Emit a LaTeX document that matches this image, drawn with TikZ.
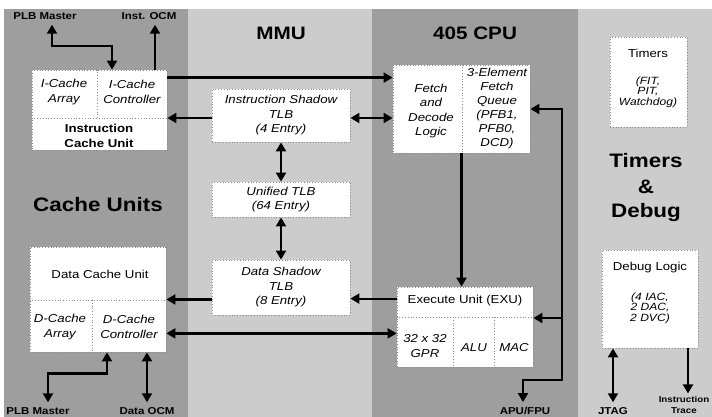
\documentclass[tikz,border=0pt]{standalone}
\usepackage{fontspec}
\setmainfont{Liberation Sans}[FakeStretch=1.15]
\usetikzlibrary{arrows.meta,positioning}

\begin{document}
\begin{tikzpicture}[x=1pt, y=-1pt, >={Triangle[length=9pt,width=10pt]}]
    \tikzstyle{unit}=[draw=black!45, dotted, line width=0.8pt, fill=white, inner sep=0pt]
    \tikzstyle{div}=[draw=black!45, dotted, line width=0.8pt]
    \tikzstyle{link}=[line width=2.2pt]
    \tikzstyle{txt}=[font=\fontsize{11.5}{14.5}\selectfont\itshape, align=center, inner sep=1pt]
    \tikzstyle{list}=[font=\fontsize{10.5}{10.5}\selectfont\itshape, align=center, inner sep=1pt]
    \tikzstyle{head}=[font=\fontsize{11.5}{14.5}\selectfont, align=center, inner sep=1pt]
    \tikzstyle{title}=[font=\fontsize{19.5}{25}\selectfont\bfseries, align=center, inner sep=1pt]
    \tikzstyle{port}=[font=\fontsize{10}{12}\selectfont\bfseries, align=center, inner sep=1pt]

    \useasboundingbox (0,0) rectangle (712,417);
    \fill[white] (0,0) rectangle (712,417);
    % regions
    \fill[black!38] (4,9) rectangle (188,417);
    \fill[black!20] (188,9) rectangle (372,417);
    \fill[black!38] (372,9) rectangle (578,417);
    \fill[black!20] (578,9) rectangle (712,417);

    \node[title] (cachettl) at (98,205) {Cache Units};
    \node[title, font=\fontsize{18}{25}\selectfont\bfseries] (mmuttl) at (281,33) {MMU};
    \node[title, font=\fontsize{18}{25}\selectfont\bfseries] (cputtl) at (475,33) {405 CPU};
    \node[title] (tdttl) at (646,188) {Timers\\\&\\Debug};

    % cache units
    \node[unit, minimum width=135, minimum height=80] (icu) at (99.5,110) {};
    \draw[div] (icu.north -| 97,0) -- (97,118);
    \draw[div] (icu.west |- 0,118) -- (icu.east |- 0,118);
    \node[txt] (icarray) at (64,92) {I-Cache\\Array};
    \node[txt] (icctrl) at (132,92) {I-Cache\\Controller};
    \node[head, font=\fontsize{11.5}{14.5}\selectfont\bfseries] (iculbl) at (99,136) {Instruction\\Cache Unit};

    \node[unit, minimum width=136, minimum height=105] (dcu) at (98,299.5) {};
    \draw[div] (dcu.west |- 0,300) -- (dcu.east |- 0,300);
    \draw[div] (92,300) -- (dcu.south -| 92,0);
    \node[head] (dculbl) at (100,274) {Data Cache Unit};
    \node[txt] (dcarray) at (60,327) {D-Cache\\Array};
    \node[txt] (dcctrl) at (129,327) {D-Cache\\Controller};

    % mmu
    \node[unit, txt, minimum width=138, minimum height=53] (istlb) at (281,115.5) {Instruction Shadow\\TLB\\(4 Entry)};
    \node[unit, txt, minimum width=138, minimum height=35] (utlb) at (281,199.5) {Unified TLB\\(64 Entry)};
    \node[unit, txt, minimum width=138, minimum height=55] (dstlb) at (281,287.5) {Data Shadow\\TLB\\(8 Entry)};

    % cpu
    \node[unit, minimum width=137, minimum height=88] (fetch) at (461.5,109) {};
    \draw[div] (fetch.north -| 462,0) -- (fetch.south -| 462,0);
    \node[txt] (fdl) at (431,111) {Fetch\\and\\Decode\\Logic};
    \node[txt, font=\fontsize{11.5}{14}\selectfont\itshape] (fq) at (497,109) {3-Element\\Fetch\\Queue\\(PFB1,\\PFB0,\\DCD)};

    \node[unit, minimum width=136, minimum height=80] (exu) at (465,327) {};
    \draw[div] (exu.west |- 0,317) -- (exu.east |- 0,317);
    \draw[div] (453,317) -- (exu.south -| 453,0);
    \draw[div] (494,317) -- (exu.south -| 494,0);
    \node[head] (exulbl) at (465,301) {Execute Unit (EXU)};
    \node[txt] (gpr) at (425,346) {32 x 32\\GPR};
    \node[txt] (alu) at (474,348) {ALU};
    \node[txt] (mac) at (514,348) {MAC};

    % timers and debug
    \node[unit, minimum width=77, minimum height=90] (tmr) at (648.5,82) {};
    \node[head] (tmrlbl) at (648,53) {Timers};
    \node[list] (tmrlist) at (648,92) {(FIT,\\PIT,\\Watchdog)};

    \node[unit, minimum width=96, minimum height=98] (dbg) at (650,299) {};
    \node[head] (dbglbl) at (650,268) {Debug Logic};
    \node[list] (dbglist) at (650,308) {(4 IAC,\\2 DAC,\\2 DVC)};

    % ports
    \node[port] (plbin) at (45,16) {PLB Master};
    \node[port] (iocm) at (149,16) {Inst. OCM};
    \node[port] (plbout) at (38,411) {PLB Master};
    \node[port] (docm) at (147,411) {Data OCM};
    \node[port] (apu) at (525,411) {APU/FPU};
    \node[port] (jtag) at (613,411) {JTAG};
    \node[port, font=\fontsize{8.5}{10.5}\selectfont\bfseries] (itrace) at (684,405) {Instruction\\Trace};

    % connections
    \draw[link,<->] ([xshift=7pt,yshift=-4pt]plbin.south) -- ++(0,21) -| ([xshift=12.5pt]icu.north);
    \draw[link,->] ([xshift=55.5pt]icu.north) -- ([xshift=6pt,yshift=-4pt]iocm.south);
    \draw[link,->] ([yshift=-8pt]icu.north east) -- ([yshift=-8pt]icu.north east -| fetch.west);
    \draw[link,->] ([yshift=-2.5pt]istlb.west) -- ([yshift=-2.5pt]istlb.west -| icu.east);
    \draw[link,<->] ([yshift=-2.5pt]istlb.east) -- ([yshift=-2.5pt]istlb.east -| fetch.west);
    \draw[link,<->] (istlb.south) -- (utlb.north);
    \draw[link,<->] (utlb.south) -- (dstlb.north);
    \draw[link,->] ([yshift=-12pt]dstlb.west) -- ([yshift=-12pt]dstlb.west -| dcu.east);
    \draw[link,->] ([yshift=-12pt]exu.north west) -- ([yshift=-12pt]exu.north west -| dstlb.east);
    \draw[link,<->] ([yshift=34pt]exu.south west) -- ([yshift=34pt]exu.south west -| dcu.east);
    \draw[link,->] (fetch.south) -- (fetch.south |- exu.north);
    \coordinate (apubend) at (562,380);
    \draw[link,<->] (fetch.east) -| (apubend) -| ([xshift=-2pt,yshift=4pt]apu.north);
    \draw[link,->] ([yshift=9pt]exu.east -| apubend) -- ([yshift=9pt]exu.east);
    \draw[link,<->] ([xshift=9pt]dcu.south) -- ++(0,21) -| ([xshift=10pt,yshift=4pt]plbout.north);
    \draw[link,<->] (dcu.south -| docm.north) -- ([yshift=4pt]docm.north);
    \draw[link,<->] (dbg.south -| jtag.north) -- ([yshift=4pt]jtag.north);
    \draw[link,->] ([xshift=4pt]dbg.south -| itrace.north) -- ([xshift=4pt,yshift=2pt]itrace.north);
\end{tikzpicture}
\end{document}
